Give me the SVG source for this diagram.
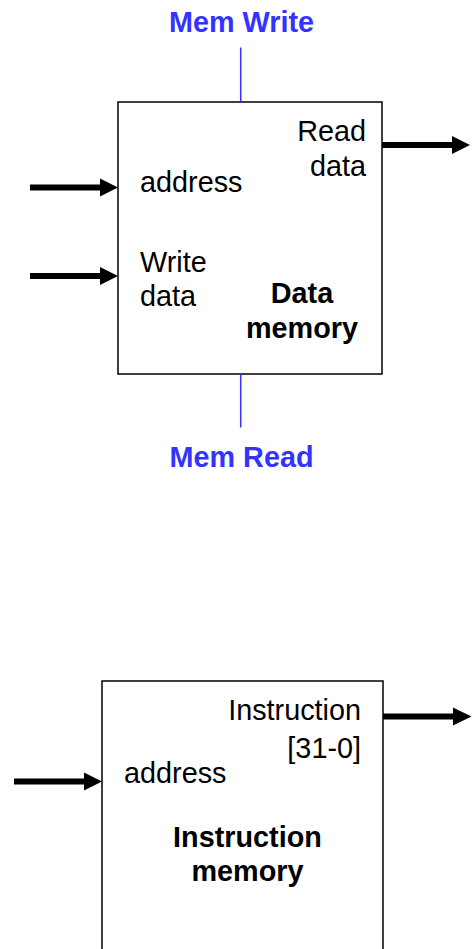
<svg xmlns="http://www.w3.org/2000/svg" width="476" height="949" viewBox="0 0 476 949">
<style>
.box{fill:#fff;stroke:#000;stroke-width:1.5}
.t{font-family:"Liberation Sans",Arial,sans-serif;font-size:28.8px;fill:#000}
.b{font-weight:bold}
.blue{fill:#3333ff;font-weight:bold}
.ctl{stroke:#3333ff;stroke-width:1.5}
.bus{stroke:#000;stroke-width:6;fill:none}
.head{fill:#000}
</style>
<rect width="476" height="949" fill="#fff"/>
<g id="data-memory">
<rect class="box" x="118" y="102" width="264" height="272"/>
<text class="t" x="366" y="141" text-anchor="end">Read</text>
<text class="t" x="366" y="176" text-anchor="end">data</text>
<text class="t" x="140" y="192">address</text>
<text class="t" x="140" y="272">Write</text>
<text class="t" x="140" y="306">data</text>
<text class="t b" x="302" y="303" text-anchor="middle">Data</text>
<text class="t b" x="302" y="338" text-anchor="middle">memory</text>
</g>
<g id="mem-write">
<text class="t blue" x="241.5" y="32" text-anchor="middle">Mem Write</text>
</g>
<g id="mem-read">
<text class="t blue" x="241.5" y="467" text-anchor="middle">Mem Read</text>
</g>
<g id="instruction-memory">
<rect class="box" x="102" y="681" width="281" height="290"/>
<text class="t" x="361" y="720" text-anchor="end">Instruction</text>
<text class="t" x="361" y="758" text-anchor="end">[31-0]</text>
<text class="t" x="124" y="783">address</text>
<text class="t b" x="247.5" y="847" text-anchor="middle">Instruction</text>
<text class="t b" x="247.5" y="881" text-anchor="middle">memory</text>
</g>
<g id="connectors">
<line class="ctl" x1="240.7" y1="47.5" x2="240.7" y2="102"/>
<line class="ctl" x1="240.7" y1="374" x2="240.7" y2="427.5"/>
<line class="bus" x1="30" y1="187.5" x2="101" y2="187.5"/>
<polygon class="head" points="100,178.5 118,187.5 100,196.5"/>
<line class="bus" x1="30" y1="276" x2="101" y2="276"/>
<polygon class="head" points="100,267 118,276 100,285"/>
<line class="bus" x1="382" y1="145" x2="453" y2="145"/>
<polygon class="head" points="452,136 470,145 452,154"/>
<line class="bus" x1="14" y1="781.5" x2="85" y2="781.5"/>
<polygon class="head" points="84,772.5 102,781.5 84,790.5"/>
<line class="bus" x1="383" y1="716.5" x2="454" y2="716.5"/>
<polygon class="head" points="453,707.5 471.5,716.5 453,725.5"/>
</g>
</svg>
